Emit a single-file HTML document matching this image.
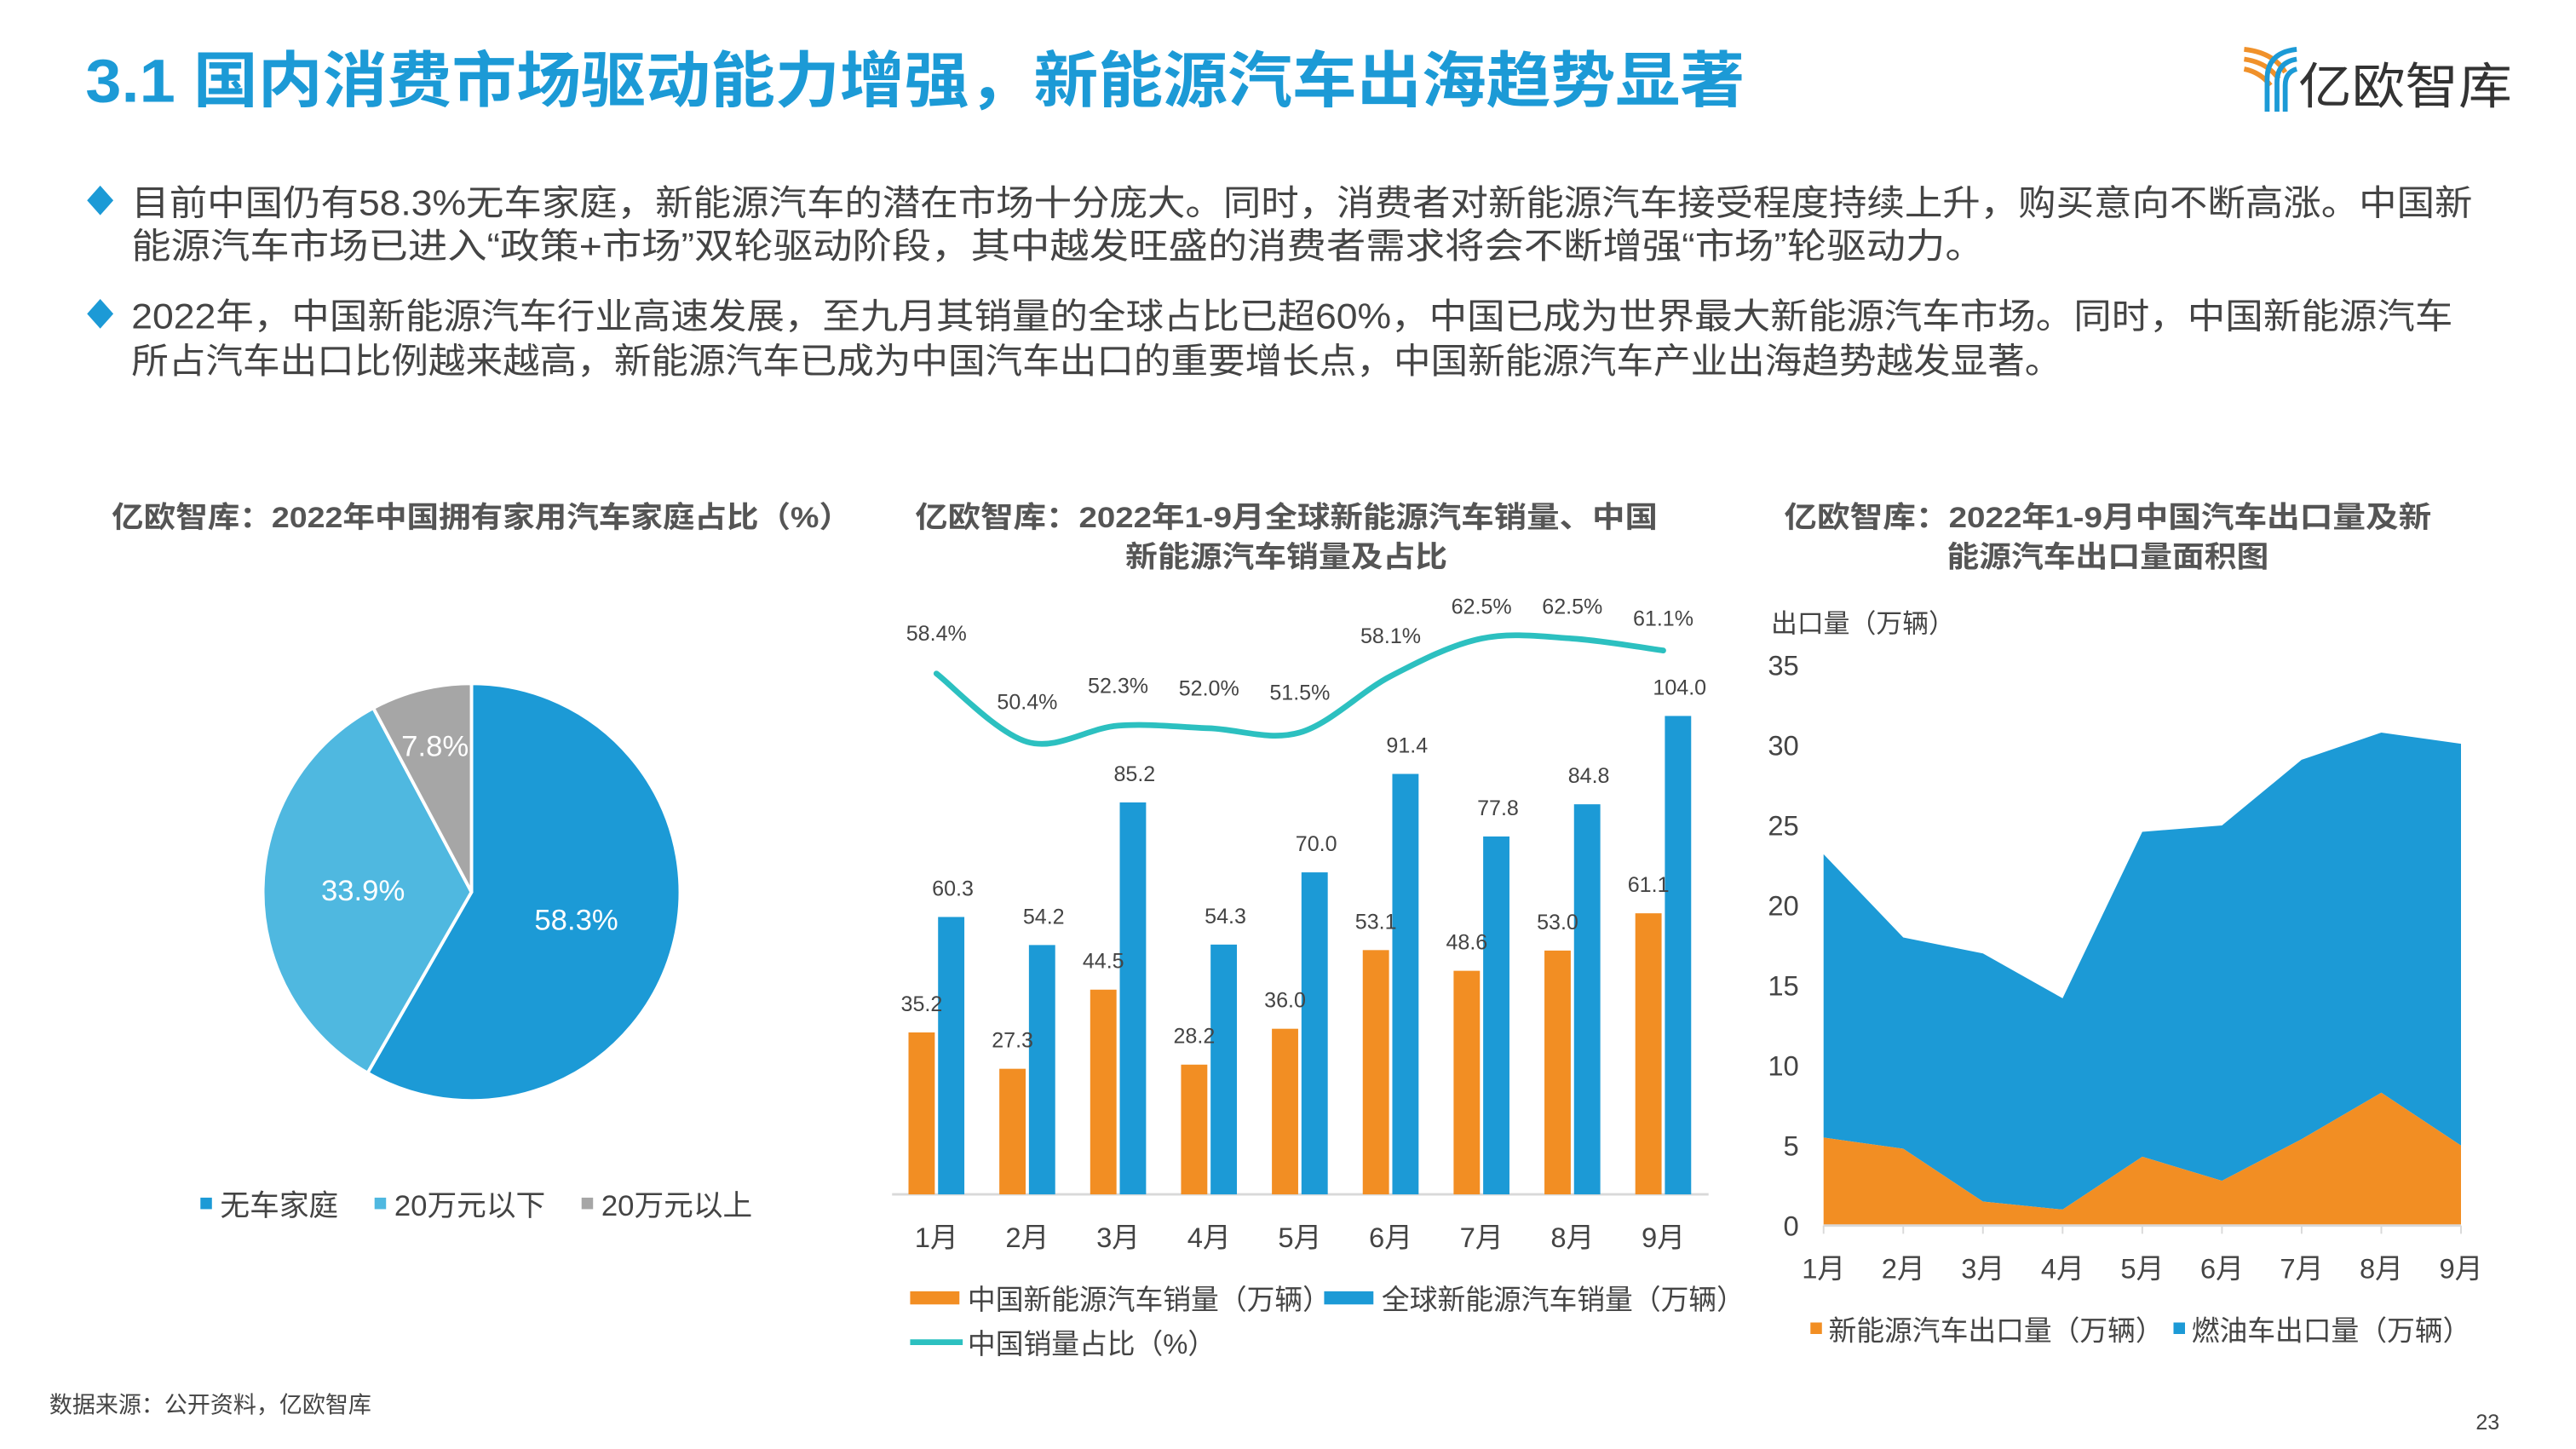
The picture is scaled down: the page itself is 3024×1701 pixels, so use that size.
<!DOCTYPE html>
<html><head><meta charset="utf-8"><style>
html,body{margin:0;padding:0;background:#fff;}
svg{display:block;font-family:"Liberation Sans","Noto Sans CJK SC",sans-serif;}
</style></head><body>
<svg id="s" width="3024" height="1701" viewBox="0 0 1568 882" xmlns="http://www.w3.org/2000/svg">
<text x="52" y="62" font-size="37" font-weight="bold" fill="#1c9ad6" textLength="1010" lengthAdjust="spacingAndGlyphs">3.1 国内消费市场驱动能力增强，新能源汽车出海趋势显著</text>
<g>
<path d="M1366 30 q18 2 25 14" stroke="#f0912a" stroke-width="3" fill="none"/>
<path d="M1366 36 q14 2 21 12" stroke="#f0912a" stroke-width="3" fill="none"/>
<path d="M1366 42 q10 2 16 10" stroke="#f0912a" stroke-width="3" fill="none"/>
<path d="M1398 30 q-18 2 -18 18 v20" stroke="#1c9ad6" stroke-width="3" fill="none"/>
<path d="M1398 36 q-12 2 -12 14 v18" stroke="#1c9ad6" stroke-width="3" fill="none"/>
<path d="M1398 42 q-7 2 -7 10 v16" stroke="#1c9ad6" stroke-width="3" fill="none"/>
<text x="1399" y="63" font-size="30" fill="#333" textLength="130" lengthAdjust="spacingAndGlyphs">亿欧智库</text>
</g>
<g font-size="21.5" fill="#444">
<path d="M61 113 l8 9 l-8 9 l-8 -9z" fill="#1c9ad6"/>
<text x="80" y="131" textLength="1425" lengthAdjust="spacingAndGlyphs">目前中国仍有58.3%无车家庭，新能源汽车的潜在市场十分庞大。同时，消费者对新能源汽车接受程度持续上升，购买意向不断高涨。中国新</text>
<text x="80" y="157" textLength="1128" lengthAdjust="spacingAndGlyphs">能源汽车市场已进入“政策+市场”双轮驱动阶段，其中越发旺盛的消费者需求将会不断增强“市场”轮驱动力。</text>
<path d="M61 182 l8 9 l-8 9 l-8 -9z" fill="#1c9ad6"/>
<text x="80" y="200" textLength="1413" lengthAdjust="spacingAndGlyphs">2022年，中国新能源汽车行业高速发展，至九月其销量的全球占比已超60%，中国已成为世界最大新能源汽车市场。同时，中国新能源汽车</text>
<text x="80" y="227" textLength="1175" lengthAdjust="spacingAndGlyphs">所占汽车出口比例越来越高，新能源汽车已成为中国汽车出口的重要增长点，中国新能源汽车产业出海趋势越发显著。</text>
</g>
<g font-size="18" font-weight="bold" fill="#555" text-anchor="middle">
<text x="293" y="321" textLength="450" lengthAdjust="spacingAndGlyphs">亿欧智库：2022年中国拥有家用汽车家庭占比（%）</text>
<text x="783" y="321" textLength="452" lengthAdjust="spacingAndGlyphs">亿欧智库：2022年1-9月全球新能源汽车销量、中国</text>
<text x="783" y="345" textLength="196" lengthAdjust="spacingAndGlyphs">新能源汽车销量及占比</text>
<text x="1283" y="321" textLength="394" lengthAdjust="spacingAndGlyphs">亿欧智库：2022年1-9月中国汽车出口量及新</text>
<text x="1283" y="345" textLength="196" lengthAdjust="spacingAndGlyphs">能源汽车出口量面积图</text>
</g>
<g id="pie"></g>
<g id="bar"></g>
<g id="area"></g>
<text x="30" y="860" font-size="14" fill="#444">数据来源：公开资料，亿欧智库</text>
<text x="1507" y="870" font-size="13" fill="#444">23</text>
</svg>
<script>
const NS="http://www.w3.org/2000/svg";
function mk(p,tag,a,txt){const e=document.createElementNS(NS,tag);for(const k in a)e.setAttribute(k,a[k]);if(txt!==undefined)e.textContent=txt;p.appendChild(e);return e;}

// ---------- pie data ----------
const pieLabels=["无车家庭","20万元以下","20万元以上"];
const pieValues=[58.3,33.9,7.8];
const pieColors=["#1c9ad6","#4fb8e0","#a6a6a6"];
// ---------- bar/line data ----------
const months=["1月","2月","3月","4月","5月","6月","7月","8月","9月"];
const chinaSales=[35.2,27.3,44.5,28.2,36.0,53.1,48.6,53.0,61.1];
const globalSales=[60.3,54.2,85.2,54.3,70.0,91.4,77.8,84.8,104.0];
const chinaShare=[58.4,50.4,52.3,52.0,51.5,58.1,62.5,62.5,61.1];
// ---------- area data ----------
const nevExport=[5.5,4.8,1.5,1.0,4.3,2.8,5.4,8.3,5.0];
const fuelExport=[17.7,13.2,15.5,13.2,20.3,22.2,23.7,22.5,25.1];
const areaTicks=[0,5,10,15,20,25,30,35];

// pie
(function(){
 const g=document.getElementById('pie');const cx=287,cy=543,r=127;
 const tot=pieValues.reduce((a,b)=>a+b,0);let a0=0;
 pieValues.forEach((v,i)=>{
  const a1=a0+v/tot*2*Math.PI;
  const x0=cx+r*Math.sin(a0),y0=cy-r*Math.cos(a0),x1=cx+r*Math.sin(a1),y1=cy-r*Math.cos(a1);
  const p=mk(g,'path',{d:`M${cx} ${cy}L${x0} ${y0}A${r} ${r} 0 ${a1-a0>Math.PI?1:0} 1 ${x1} ${y1}Z`,fill:pieColors[i],stroke:'#fff','stroke-width':2});
  
  
  const am=(a0+a1)/2,lr=i===2?r*0.72:r*0.52;
  const t=mk(g,'text',{x:cx+lr*Math.sin(am),y:cy-lr*Math.cos(am)+6,'font-size':18,fill:'#fff','text-anchor':'middle'},pieValues[i].toFixed(1)+'%');
  
  
  a0=a1;
 });
 const lxs=[122,228,354];
 pieLabels.forEach((l,i)=>{
  const r=mk(g,'rect',{x:lxs[i],y:729,width:7,height:7,fill:pieColors[i]});
  
  
  const t=mk(g,'text',{x:lxs[i]+12,y:740,'font-size':18,fill:'#444'},l);
  
  
 });
})();

// bar + line
(function(){
 const g=document.getElementById('bar');
 const x0=570,dx=55.3,base=727,k=2.8,bw=16;
 const xs=i=>x0+i*dx, ys=v=>base-v*k, yl=v=>410-(v-58.4)*5.2;
 const ax=mk(g,'line',{x1:543,y1:base,x2:1040,y2:base,stroke:'#d9d9d9','stroke-width':1.5});
 
 
 months.forEach((m,i)=>{
  const c=xs(i);
  const b1=mk(g,'rect',{x:c-bw-1,y:ys(chinaSales[i]),width:bw,height:chinaSales[i]*k,fill:'#f28e23'});
  
  
  const b2=mk(g,'rect',{x:c+1,y:ys(globalSales[i]),width:bw,height:globalSales[i]*k,fill:'#1c9ad6'});
  
  
  const t1=mk(g,'text',{x:c-9,y:ys(chinaSales[i])-13,'font-size':13,fill:'#444','text-anchor':'middle'},chinaSales[i].toFixed(1));
  
  
  const t2=mk(g,'text',{x:c+10,y:ys(globalSales[i])-13,'font-size':13,fill:'#444','text-anchor':'middle'},globalSales[i].toFixed(1));
  
  
  const tm=mk(g,'text',{x:c,y:759,'font-size':17,fill:'#444','text-anchor':'middle'},m);
  
  
 });
 const pts=chinaShare.map((v,i)=>[xs(i),yl(v)]);
 let d=`M${pts[0][0]} ${pts[0][1]}`;
 for(let i=0;i<pts.length-1;i++){
  const p0=pts[i-1]||pts[i],p1=pts[i],p2=pts[i+1],p3=pts[i+2]||p2;
  d+=`C${p1[0]+(p2[0]-p0[0])/6} ${p1[1]+(p2[1]-p0[1])/6} ${p2[0]-(p3[0]-p1[0])/6} ${p2[1]-(p3[1]-p1[1])/6} ${p2[0]} ${p2[1]}`;
 }
 const ln=mk(g,'path',{d:d,fill:'none',stroke:'#2cc0c0','stroke-width':3.5,'stroke-linecap':'round'});
 
 
 chinaShare.forEach((v,i)=>{
  const t=mk(g,'text',{x:xs(i),y:yl(v)-(v>60?15:20),'font-size':13,fill:'#444','text-anchor':'middle'},v.toFixed(1)+'%');
  
  
 });
 const lg=[[554,782,'#f28e23','中国新能源汽车销量（万辆）'],[806,782,'#1c9ad6','全球新能源汽车销量（万辆）']];
 lg.forEach(l=>{
  const r=mk(g,'rect',{x:l[0],y:l[1]+4,width:30,height:8,fill:l[2]});
  
  
  const t=mk(g,'text',{x:l[0]+35,y:l[1]+15,'font-size':17,fill:'#444'},l[3]);
  
  
 });
 const ll=mk(g,'line',{x1:554,y1:817,x2:586,y2:817,stroke:'#2cc0c0','stroke-width':3.5});
 
 
 const lt=mk(g,'text',{x:589,y:824,'font-size':17,fill:'#444'},'中国销量占比（%）');
 
 
})();

// area
(function(){
 const g=document.getElementById('area');
 const x0=1110,dx=48.5,base=746,k=(746-405)/35;
 const xs=i=>x0+i*dx, ys=v=>base-v*k;
 const tot=nevExport.map((v,i)=>v+fuelExport[i]);
 let d1=months.map((m,i)=>(i?'L':'M')+xs(i)+' '+ys(tot[i])).join('');
 for(let i=months.length-1;i>=0;i--)d1+='L'+xs(i)+' '+ys(nevExport[i]);
 const a1=mk(g,'path',{d:d1+'Z',fill:'#1c9ad6'});
 
 
 let d2=months.map((m,i)=>(i?'L':'M')+xs(i)+' '+ys(nevExport[i])).join('')+`L${xs(8)} ${base}L${xs(0)} ${base}Z`;
 const a2=mk(g,'path',{d:d2,fill:'#f28e23'});
 
 
 const ax=mk(g,'line',{x1:xs(0),y1:base,x2:xs(8),y2:base,stroke:'#d9d9d9','stroke-width':1.5});
 
 
 areaTicks.forEach(v=>{
  const t=mk(g,'text',{x:1095,y:ys(v)+6,'font-size':17,fill:'#444','text-anchor':'end'},String(v));
  
  
 });
 months.forEach((m,i)=>{
  const tk=mk(g,'line',{x1:xs(i),y1:base,x2:xs(i),y2:base+5,stroke:'#d9d9d9'});
  
  
  const t=mk(g,'text',{x:xs(i),y:778,'font-size':17,fill:'#444','text-anchor':'middle'},m);
  
  
 });
 const yt=mk(g,'text',{x:1078,y:385,'font-size':16,fill:'#444'},'出口量（万辆）');
 
 
 [[1102,'#f28e23','新能源汽车出口量（万辆）'],[1323,'#1c9ad6','燃油车出口量（万辆）']].forEach(l=>{
  const r=mk(g,'rect',{x:l[0],y:805,width:7,height:7,fill:l[1]});
  
  
  const t=mk(g,'text',{x:l[0]+11,y:816,'font-size':17,fill:'#444'},l[2]);
  
  
 });
})();
</script>
</body></html>
